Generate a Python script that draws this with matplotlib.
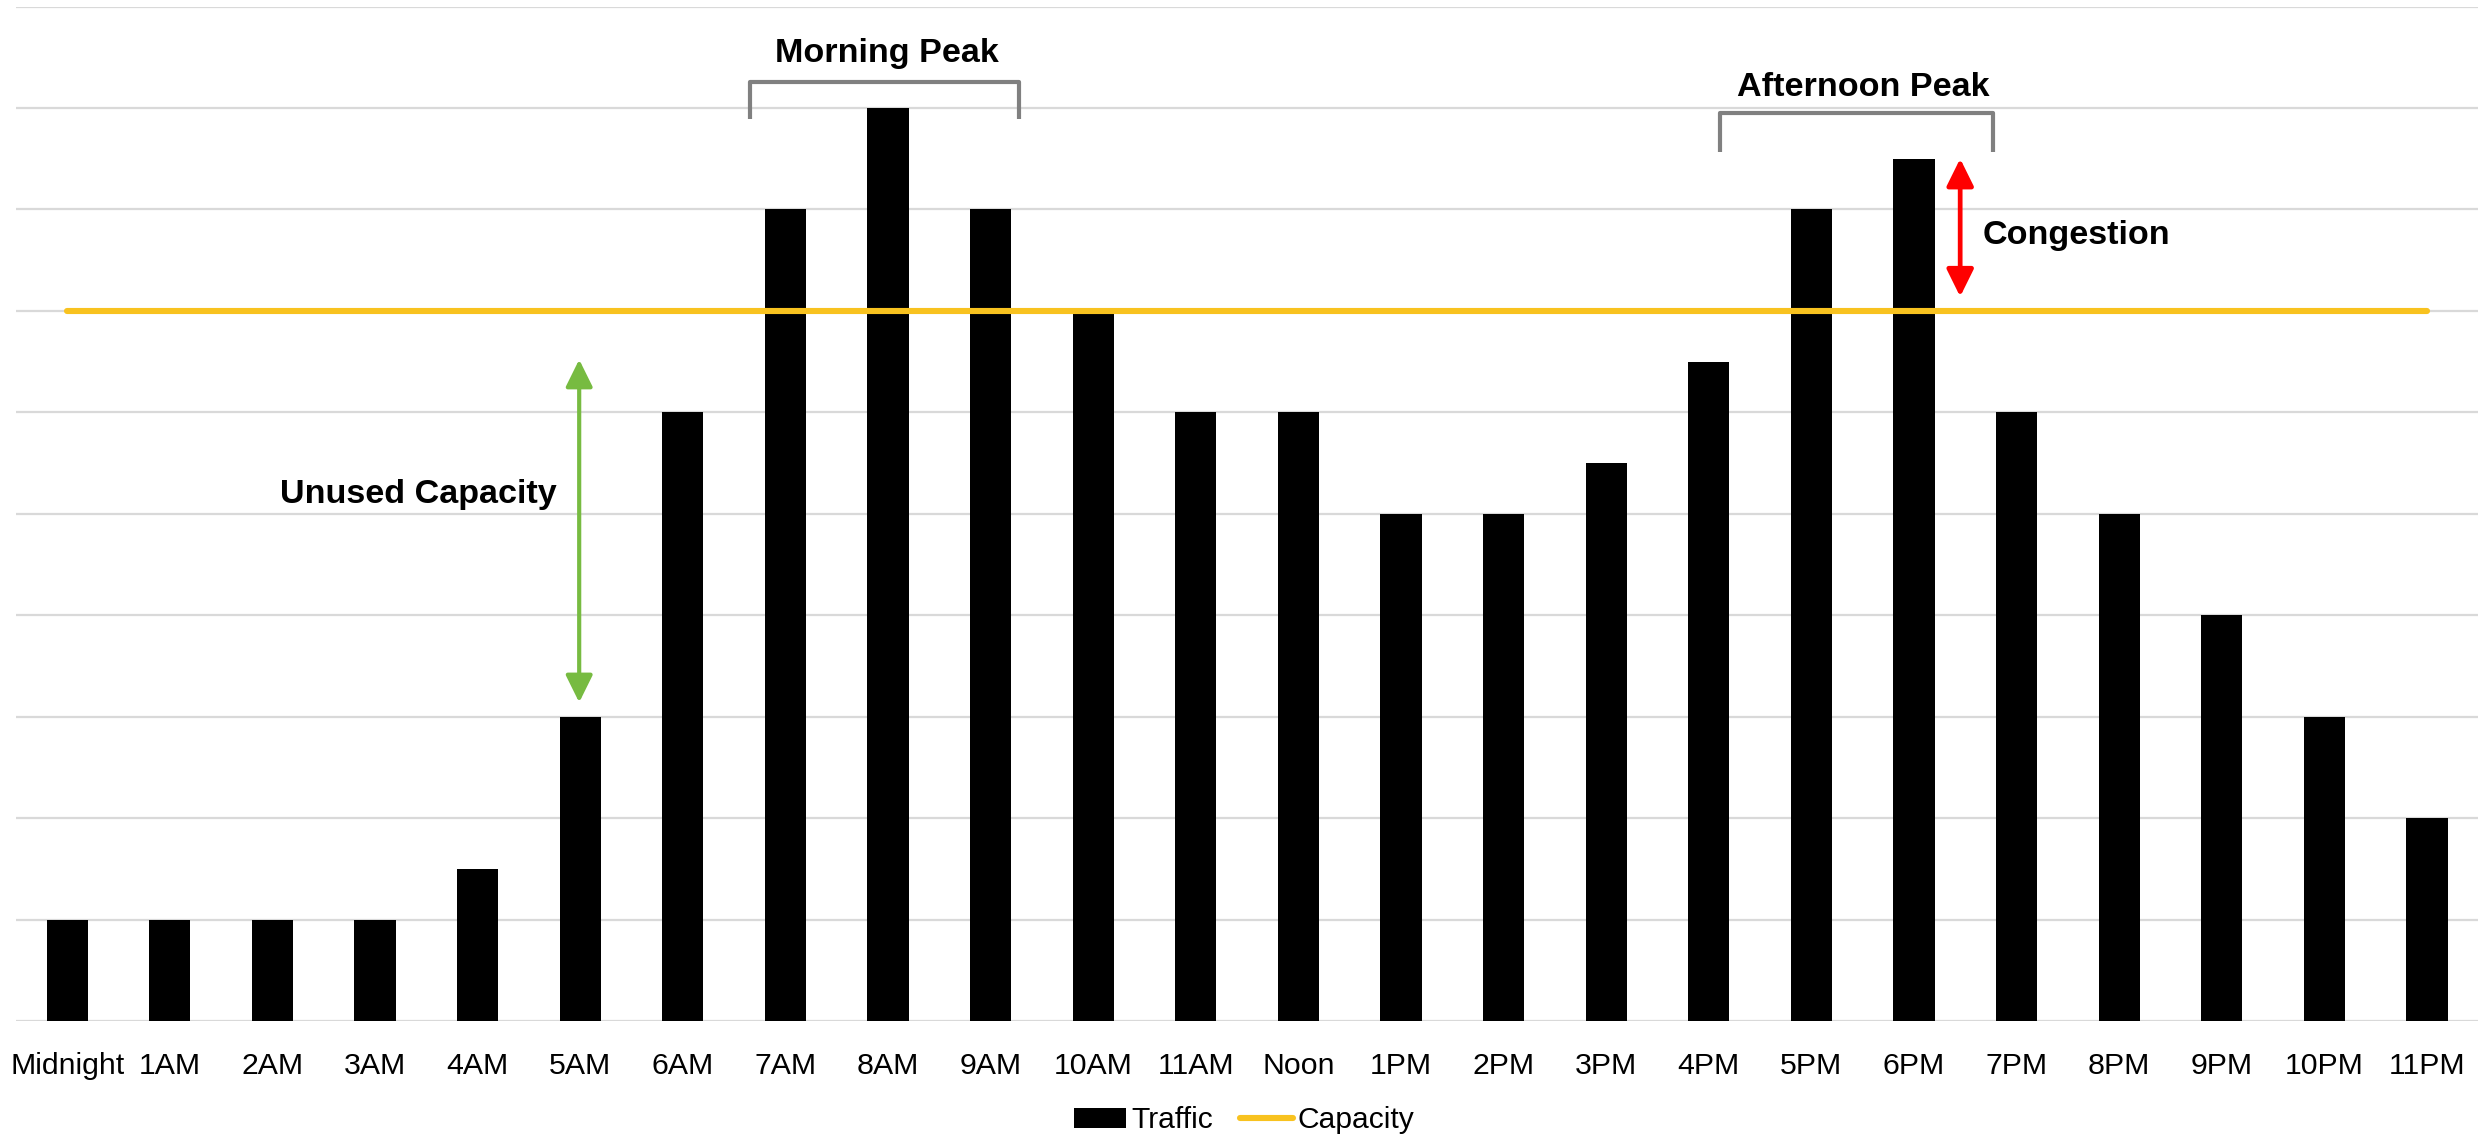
import matplotlib
matplotlib.use("Agg")
import matplotlib.pyplot as plt
from matplotlib import font_manager
from matplotlib.patches import Patch
from matplotlib.lines import Line2D

# ---- data ----
hours = ["Midnight", "1AM", "2AM", "3AM", "4AM", "5AM", "6AM", "7AM", "8AM", "9AM",
         "10AM", "11AM", "Noon", "1PM", "2PM", "3PM", "4PM", "5PM", "6PM", "7PM",
         "8PM", "9PM", "10PM", "11PM"]
traffic = [1, 1, 1, 1, 1.5, 3, 6, 8, 9, 8, 7, 6, 6, 5, 5, 5.5, 6.5, 8, 8.5, 6, 5, 4, 3, 2]
capacity = [7, 7, 7, 7, 7, 7, 7, 7, 7, 7, 7, 7, 7, 7, 7, 7, 7, 7, 7, 7, 7, 7, 7, 7]
y_gridlines = [0, 1, 2, 3, 4, 5, 6, 7, 8, 9, 10]


def has_font(name):
    try:
        font_manager.findfont(font_manager.FontProperties(family=name),
                              fallback_to_default=False)
        return True
    except Exception:
        return False


NARROW = has_font("Liberation Sans Narrow")
if NARROW:
    tick_family, tick_size = "Liberation Sans Narrow", 26.5
    bold_family, bold_size = "Liberation Sans Narrow", 30
else:
    tick_family, tick_size = "Liberation Sans", 21.8
    bold_family, bold_size = "Liberation Sans", 24.6

GOLD = "#F8C21F"
GRID = "#D9D9D9"
BRACKET = "#808080"

fig = plt.figure(figsize=(24.88, 11.41), dpi=100)
ax = fig.add_axes([0.0064, 0.1052, 0.9897, 0.8891])

x = list(range(len(hours)))
ax.bar(x, traffic, width=0.4, color="black", zorder=2)
ax.plot(x, capacity, color=GOLD, lw=4.4, solid_capstyle="round", zorder=3)

ax.set_xlim(-0.5, len(hours) - 0.5)
ax.set_ylim(0, 10)
ax.set_yticks(y_gridlines)
ax.yaxis.grid(True, color=GRID, lw=1.6, zorder=0)
ax.set_axisbelow(True)
ax.tick_params(axis="y", left=False, labelleft=False)
ax.set_xticks(x)
ax.set_xticklabels(hours, family=tick_family, fontsize=tick_size)
ax.tick_params(axis="x", length=0, pad=22)
for s in ax.spines.values():
    s.set_visible(False)

# ---- annotations ----
def bracket(x0, x1, yb, yt):
    ax.plot([x0, x0, x1, x1], [yb, yt, yt, yb], color=BRACKET, lw=3.0,
            solid_joinstyle="round", solid_capstyle="butt", zorder=4, clip_on=False)

bracket(6.655, 9.276, 8.89, 9.26)
ax.text(7.99, 9.45, "Morning Peak", ha="center", va="baseline",
        family=bold_family, fontsize=bold_size, fontweight="bold")

bracket(16.11, 18.77, 8.57, 8.95)
ax.text(17.51, 9.12, "Afternoon Peak", ha="center", va="baseline",
        family=bold_family, fontsize=bold_size, fontweight="bold")

ax.annotate("", xy=(18.45, 8.5), xytext=(18.45, 7.14),
            arrowprops=dict(arrowstyle="<|-|>,head_length=0.83,head_width=0.41",
                            mutation_scale=20, lw=3.4, color="#FF0000",
                            shrinkA=0, shrinkB=0), zorder=5)
ax.text(18.67, 7.66, "Congestion", ha="left", va="baseline",
        family=bold_family, fontsize=bold_size, fontweight="bold")

ax.annotate("", xy=(4.99, 6.52), xytext=(4.99, 3.14),
            arrowprops=dict(arrowstyle="<|-|>,head_length=0.83,head_width=0.41",
                            mutation_scale=20, lw=3.0, color="#77BB41",
                            shrinkA=0, shrinkB=0), zorder=5)
ax.text(4.77, 5.11, "Unused Capacity", ha="right", va="baseline",
        family=bold_family, fontsize=bold_size, fontweight="bold")

# ---- legend ----
handles = [Patch(facecolor="black", edgecolor="none", label="Traffic"),
           Line2D([0], [0], color=GOLD, lw=4.4, solid_capstyle="round", label="Capacity")]
fig.legend(handles=handles, loc="center", bbox_to_anchor=(0.5, 0.018), ncol=2,
           frameon=False, prop=dict(family="Liberation Sans", size=21.6),
           handlelength=1.75, handleheight=0.67, handletextpad=0.17,
           columnspacing=0.9, borderpad=0, borderaxespad=0)

fig.savefig("out.png", dpi=100)
